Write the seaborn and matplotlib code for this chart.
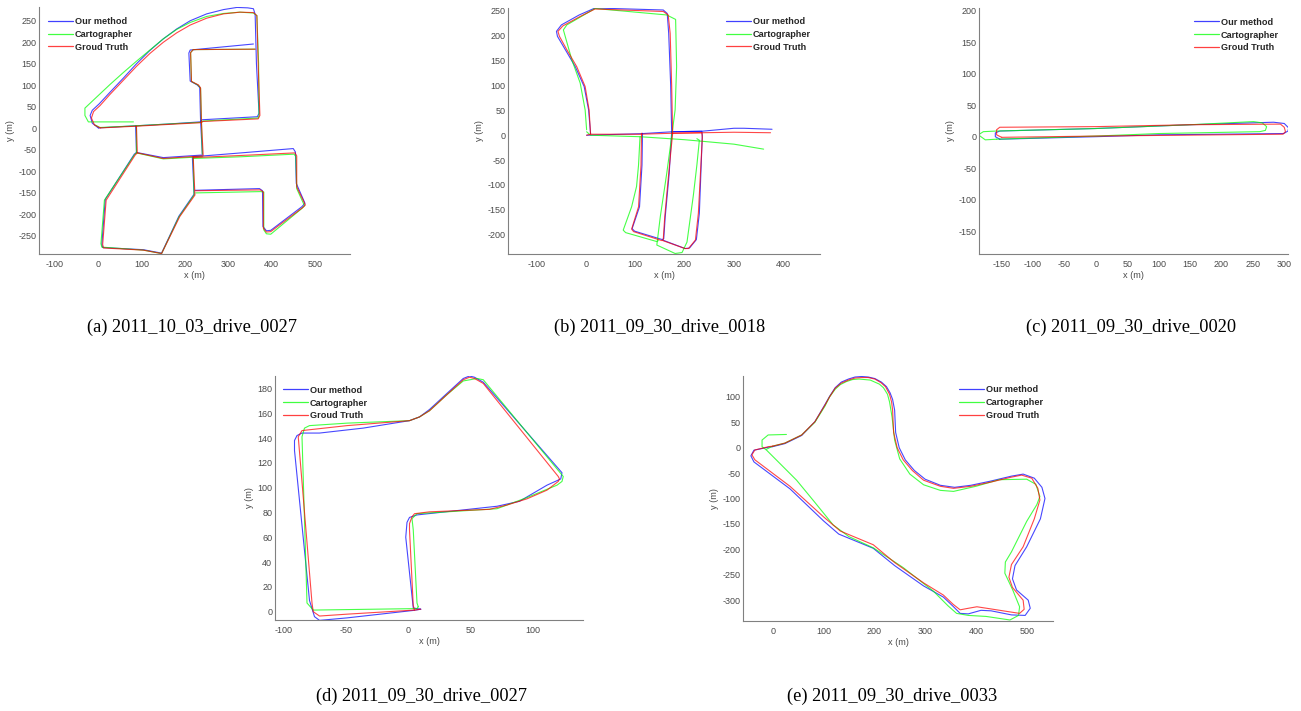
import matplotlib
matplotlib.use("Agg")
import matplotlib.pyplot as plt
from matplotlib.lines import Line2D
import pandas as pd
import seaborn as sns

# ---------------------------------------------------------------------------
# Trajectories (metres).  Each series is a list of polyline segments.
# ---------------------------------------------------------------------------
METHODS = ["Our method", "Cartographer", "Groud Truth"]
COLORS = ["#0000ff", "#00ff00", "#ff0000"]

# (a) 2011_10_03_drive_0027
A_OURS = [
    [(0, 1), (88, 6), (160, 10), (235, 15), (240, 20), (367, 27), (371, 35), (365, 150),
     (362, 265), (358, 278), (345, 280), (320, 281), (289, 276), (250, 266), (212, 250),
     (181, 231), (150, 208), (119, 181), (88, 150), (58, 117), (27, 84), (2, 57), (-14, 42),
     (-19, 30), (-14, 12), (0, 1)],
    [(358, 196), (212, 182), (209, 175), (212, 110), (228, 101), (234, 95), (236, 18), (240, -60)],
    [(86, 6), (88, -56), (150, -68), (240, -62)],
    [(219, -66), (330, -57), (450, -47), (455, -55), (457, -128), (477, -174), (470, -182),
     (398, -237), (388, -238), (380, -228), (379, -145), (372, -140), (223, -144)],
    [(217, -66), (221, -153), (186, -204), (146, -290), (104, -282), (10, -277), (8, -270),
     (16, -165), (83, -60), (88, -56)],
]
A_CARTO = [
    [(81, 15), (-23, 15), (-31, 30), (-31, 47), (-11, 66), (27, 102), (58, 130), (88, 156),
     (119, 182), (150, 208), (181, 230), (212, 246), (250, 260), (289, 267), (327, 270),
     (358, 268), (366, 262), (370, 150), (371, 30), (369, 24), (242, 17), (238, 14),
     (160, 10), (88, 6), (4, 2), (-8, 8)],
    [(362, 184), (219, 183), (213, 176), (215, 109), (231, 100), (236, 93), (238, 15), (240, -60)],
    [(88, 6), (88, -57), (150, -71), (240, -66)],
    [(219, -70), (330, -66), (452, -60), (456, -66), (458, -140), (476, -180), (470, -186),
     (398, -246), (388, -245), (382, -236), (382, -148), (374, -147), (225, -150)],
    [(219, -68), (221, -155), (186, -206), (146, -291), (104, -283), (8, -276), (6, -268),
     (14, -167), (83, -62), (88, -57)],
]
A_GT = [
    [(4, 1), (88, 5), (160, 9), (235, 13), (242, 16), (369, 22), (373, 30), (369, 150),
     (366, 262), (358, 269), (327, 270), (289, 266), (250, 256), (212, 240), (181, 222),
     (150, 200), (119, 174), (88, 144), (58, 112), (27, 79), (4, 53), (-11, 39), (-16, 24),
     (-9, 8), (4, 1)],
    [(362, 184), (219, 183), (213, 176), (215, 109), (231, 101), (236, 94), (238, 15), (242, -62)],
    [(88, 5), (90, -57), (150, -70), (242, -64)],
    [(219, -68), (330, -63), (454, -57), (458, -64), (458, -136), (478, -178), (472, -184),
     (398, -240), (388, -241), (381, -232), (381, -148), (374, -143), (225, -145)],
    [(219, -66), (223, -155), (188, -205), (146, -291), (104, -283), (12, -278), (10, -270),
     (18, -167), (85, -62), (90, -57)],
]

# (b) 2011_09_30_drive_0018
B_OURS = [
    [(2, 0), (110, 3), (176, 7), (235, 8), (300, 14), (320, 14), (377, 12)],
    [(10, 3), (6, 51), (-3, 98), (-21, 138), (-41, 172), (-57, 199), (-59, 209), (-49, 222),
     (-13, 242), (19, 256), (157, 252), (165, 245), (168, 205), (172, 100), (174, 5)],
    [(115, 4), (114, -60), (109, -144), (94, -188), (99, -193), (155, -210), (158, -208),
     (161, -164), (169, -77), (174, 5)],
    [(174, 7), (235, 8), (236, 0), (230, -157), (224, -210), (210, -227), (201, -228), (156, -211)],
]
B_CARTO = [
    [(2, 7), (10, 0), (110, -3), (200, -9), (245, -13), (300, -18), (360, -28)],
    [(2, 11), (-1, 51), (-11, 105), (-28, 152), (-45, 212), (-38, 222), (19, 255), (164, 242),
     (182, 233), (184, 138), (181, 51), (174, -3), (164, -77), (151, -164), (144, -221),
     (181, -238), (195, -236), (205, -215), (218, -120), (225, -60), (230, -10), (225, -7)],
    [(110, -3), (107, -60), (103, -103), (93, -144), (76, -191), (81, -196), (144, -214), (147, -212)],
]
B_GT = [
    [(2, 0), (10, 2), (110, 2), (176, 4), (235, 5), (300, 6), (374, 5)],
    [(10, 2), (7, 51), (-1, 98), (-18, 138), (-38, 172), (-53, 199), (-56, 209), (-46, 220),
     (-11, 239), (19, 254), (157, 249), (167, 242), (171, 205), (174, 100), (176, 4)],
    [(113, 4), (112, -60), (107, -144), (93, -189), (97, -194), (154, -212), (157, -210),
     (160, -164), (168, -77), (176, 4)],
    [(176, 4), (235, 5), (236, -5), (228, -157), (222, -211), (208, -228), (201, -228), (156, -212)],
]

# (c) 2011_09_30_drive_0020
C_OURS = [
    [(-153, -4), (0, 0), (100, 3), (299, 5), (306, 9), (307, 14), (300, 21), (283, 23),
     (150, 19), (0, 13), (-153, 9), (-160, 6), (-160, 0), (-153, -4)],
]
C_CARTO = [
    [(-158, -4), (0, 1), (100, 5), (261, 8), (270, 10), (272, 16), (265, 22), (251, 24),
     (150, 19), (0, 13), (-158, 9), (-179, 8), (-187, 3), (-176, -5), (-158, -4)],
]
C_GT = [
    [(-150, -1), (0, 1), (150, 2.5), (298, 4), (302, 8), (300, 15), (294, 20), (150, 19),
     (0, 16), (-153, 15), (-158, 11), (-158, 3), (-150, -1)],
]

# (d) 2011_09_30_drive_0027
D_OURS = [
    [(10, 2), (4, 1), (-49, -5), (-71, -7), (-75, -4), (-79, 9), (-91, 130), (-91, 138),
     (-89, 142), (-85, 144), (-71, 144), (-36, 148), (1, 154), (9, 157), (17, 163), (31, 176),
     (44, 188), (49, 190), (53, 189), (60, 185), (123, 112), (122, 107), (111, 102), (89, 89),
     (71, 85), (7, 78), (1, 76), (-1, 72), (-2, 60), (4, 3), (10, 2)],
]
D_CARTO = [
    [(8, 4), (7, 2.5), (-76, 1.3), (-81, 7), (-85, 141), (-83, 148), (-79, 150), (-49, 152),
     (1, 154), (9, 157), (17, 162), (31, 175), (44, 186), (55, 188), (60, 187), (124, 109),
     (123, 105), (119, 102), (95, 92), (71, 83), (7, 79), (3, 75), (4, 66), (7, 7), (8, 4)],
]
D_GT = [
    [(10, 2), (5, 1.3), (-49, -2), (-71, -3.5), (-76, 0), (-77, 7), (-88, 141), (-85, 146),
     (-49, 150), (1, 154), (9, 157), (17, 162), (31, 175), (44, 187), (49, 189), (53, 188),
     (60, 184), (120, 109), (121, 107), (120, 105), (111, 98), (95, 91), (79, 86), (65, 82.5),
     (17, 80.5), (5, 79), (3, 76.5), (1, 71), (1, 66), (4, 5), (5, 1.3)],
]

# (e) 2011_09_30_drive_0033
E_OURS = [
    [(0, 2), (24, 8), (57, 24), (83, 51), (103, 85), (112, 101), (123, 118), (135, 129),
     (149, 135), (162, 139), (175, 140), (188, 139), (201, 136), (214, 129), (224, 120),
     (231, 108), (236, 95), (240, 74), (242, 30), (249, 0), (261, -24), (279, -45),
     (300, -62), (330, -74), (358, -78), (390, -74), (428, -66), (470, -56), (493, -52),
     (515, -60), (530, -78), (536, -100), (527, -140), (500, -195), (477, -232), (472, -258),
     (480, -280), (503, -300), (507, -316), (497, -330), (470, -329), (430, -321), (410, -320),
     (385, -327), (369, -326), (355, -312), (336, -294), (297, -272), (240, -232), (198, -198),
     (130, -170), (100, -144), (34, -81), (-37, -28), (-43, -16), (-37, -5), (-8, 1), (0, 2)],
]
E_CARTO = [
    [(27, 26), (-9, 25), (-21, 15), (-21, 2), (-12, -5), (10, -27), (47, -64), (80, -104),
     (119, -152), (150, -175), (198, -197), (257, -236), (316, -282), (345, -311), (362, -326),
     (385, -330), (420, -332), (467, -339), (484, -330), (486, -313), (473, -281), (457, -247),
     (458, -225), (470, -205), (500, -145), (520, -112), (526, -96), (518, -72), (500, -62),
     (446, -63), (400, -76), (356, -86), (330, -84), (297, -73), (270, -52), (250, -22),
     (240, 15), (235, 60), (230, 90), (226, 105), (218, 118), (210, 125), (192, 133),
     (170, 135), (157, 134), (145, 130), (133, 124), (123, 115), (112, 100), (103, 82),
     (83, 50), (57, 25), (24, 9), (0, 3), (-12, -3)],
]
E_GT = [
    [(0, 3), (24, 9), (57, 25), (83, 51), (103, 84), (112, 100), (123, 117), (135, 127),
     (149, 133), (162, 137), (175, 138), (188, 138), (201, 135), (213, 128), (222, 120),
     (230, 105), (234, 90), (236, 74), (238, 30), (245, 0), (257, -24), (275, -45),
     (297, -64), (330, -76), (356, -80), (390, -76), (428, -68), (470, -58), (490, -54),
     (510, -60), (522, -80), (526, -103), (515, -140), (493, -195), (470, -230), (465, -255),
     (472, -275), (493, -300), (495, -318), (486, -326), (460, -322), (428, -317), (402, -313),
     (385, -316), (369, -319), (355, -308), (336, -290), (297, -266), (240, -226), (198, -191),
     (133, -164), (100, -136), (34, -76), (-35, -24), (-41, -14), (-35, -4.5), (-8, 2), (0, 3)],
]

CAPTIONS = ["(a) 2011_10_03_drive_0027", "(b) 2011_09_30_drive_0018",
            "(c) 2011_09_30_drive_0020", "(d) 2011_09_30_drive_0027",
            "(e) 2011_09_30_drive_0033"]
SERIES = [
    (A_OURS, A_CARTO, A_GT),
    (B_OURS, B_CARTO, B_GT),
    (C_OURS, C_CARTO, C_GT),
    (D_OURS, D_CARTO, D_GT),
    (E_OURS, E_CARTO, E_GT),
]

# ---------------------------------------------------------------------------
# Layout (figure pixels, origin top-left)
# ---------------------------------------------------------------------------
W, H = 1301, 711
LAYOUT = [
    dict(box=(39, 7, 350, 254), xlim=(-137, 581), ylim=(-292, 282),
         xt=range(-100, 501, 100), yt=range(-250, 251, 50), leg=(48, 22), cap=(192, 327)),
    dict(box=(508, 8, 820, 254), xlim=(-157, 474), ylim=(-239, 256),
         xt=range(-100, 401, 100), yt=range(-200, 251, 50), leg=(726, 22), cap=(660, 327)),
    dict(box=(979, 8, 1288, 254), xlim=(-186, 306), ylim=(-186.5, 204.6),
         xt=range(-150, 301, 50), yt=range(-150, 201, 50), leg=(1194, 22.7), cap=(1131, 327)),
    dict(box=(275, 376, 583, 620), xlim=(-106.6, 139.8), ylim=(-6.7, 190),
         xt=range(-100, 101, 50), yt=range(0, 181, 20), leg=(283, 390.7), cap=(422, 696)),
    dict(box=(743, 376, 1053, 621), xlim=(-58.5, 551.8), ylim=(-341, 141),
         xt=range(0, 501, 100), yt=range(-300, 101, 50), leg=(959, 390.3), cap=(892, 696)),
]


def to_frame(series):
    rows = []
    for method, segs in zip(METHODS, series):
        for k, seg in enumerate(segs):
            for i, (x, y) in enumerate(seg):
                rows.append((method, k, i, x, y))
    return pd.DataFrame(rows, columns=["method", "seg", "order", "x", "y"])


sns.set_theme(style="white")
plt.rcParams["font.family"] = ["Liberation Sans", "DejaVu Sans"]
plt.rcParams["axes.unicode_minus"] = False

fig = plt.figure(figsize=(W / 100, H / 100), dpi=100)
palette = dict(zip(METHODS, COLORS))
TICK_COLOR = "#4a4a4a"
SPINE_COLOR = "#808080"

for series, lay, cap in zip(SERIES, LAYOUT, CAPTIONS):
    x0, y0, x1, y1 = lay["box"]
    ax = fig.add_axes([x0 / W, 1 - y1 / H, (x1 - x0) / W, (y1 - y0) / H])
    df = to_frame(series)
    sns.lineplot(data=df, x="x", y="y", hue="method", hue_order=METHODS, units="seg",
                 estimator=None, sort=False, palette=palette, legend=False,
                 linewidth=0.8, alpha=0.72, ax=ax)
    ax.set_xlim(*lay["xlim"])
    ax.set_ylim(*lay["ylim"])
    ax.set_xticks(list(lay["xt"]))
    ax.set_yticks(list(lay["yt"]))
    ax.set_xlabel("x (m)", fontsize=6.6, color=TICK_COLOR, labelpad=2)
    ax.set_ylabel("y (m)", fontsize=6.6, color=TICK_COLOR, labelpad=2)
    sns.despine(ax=ax)
    for side in ("left", "bottom"):
        ax.spines[side].set_color(SPINE_COLOR)
        ax.spines[side].set_linewidth(0.8)
    ax.tick_params(axis="both", direction="in", length=2.5, width=0.6,
                   color=SPINE_COLOR, labelsize=6.5, labelcolor=TICK_COLOR)
    ax.tick_params(axis="x", pad=4)
    ax.tick_params(axis="y", pad=2)

    handles = [Line2D([], [], color=c, lw=0.9, alpha=0.75) for c in COLORS]
    lx, ly = lay["leg"]
    ax.legend(handles, METHODS, loc="upper left", frameon=False,
              bbox_to_anchor=(lx / W, 1 - (ly - 5) / H), bbox_transform=fig.transFigure,
              borderpad=0, borderaxespad=0, handlelength=2.7, handletextpad=0.25,
              labelspacing=0.42, prop=dict(family="Liberation Sans", weight="bold", size=6.6))

    cx, cy = lay["cap"]
    fig.text(cx / W, 1 - cy / H, cap, ha="center", va="center",
             fontsize=13.2, family="Liberation Serif", color="black")

fig.savefig("out.png", dpi=100)
